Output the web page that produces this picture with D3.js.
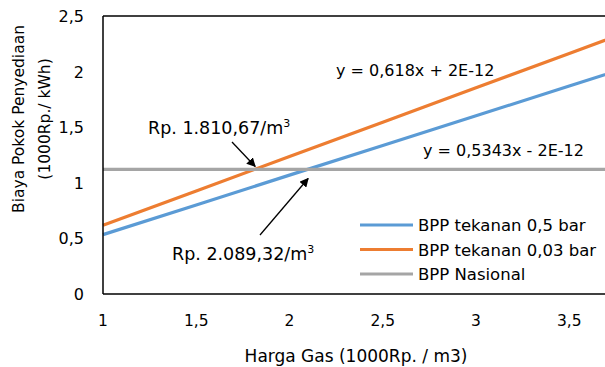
<!DOCTYPE html>
<html>
<head>
<meta charset="utf-8">
<script src="https://cdn.jsdelivr.net/npm/d3@7"></script>
<style>
  body { margin: 0; background: #fff; }
  text { font-family: "DejaVu Sans", sans-serif; fill: #000; }
</style>
</head>
<body>
<div id="chart"></div>
<script>
// data
var gasPrice = [1, 1.5, 2, 2.5, 3, 3.5, 4];
var bpp05 = [0.534, 0.801, 1.069, 1.336, 1.603, 1.870, 2.137];
var bpp003 = [0.618, 0.927, 1.236, 1.545, 1.854, 2.163, 2.472];
var bppNasional = [1.12, 1.12, 1.12, 1.12, 1.12, 1.12, 1.12];
var seriesNames = ["BPP tekanan 0,5 bar", "BPP tekanan 0,03 bar", "BPP Nasional"];
var seriesColors = ["#5b9bd5", "#ed7d31", "#a5a5a5"];
var xTicks = [1, 1.5, 2, 2.5, 3, 3.5];
var yTicks = [0, 0.5, 1, 1.5, 2, 2.5];
var crossPoints = [1.81067, 2.08932];

var width = 605, height = 367;
var plotLeft = 103, plotTop = 16, plotBottom = 294;

var svg = d3.select("#chart").append("svg")
    .attr("width", width)
    .attr("height", height);

var x = d3.scaleLinear().domain([1, 4]).range([plotLeft, plotLeft + 3 * 186.5]);
var y = d3.scaleLinear().domain([0, 2.5]).range([plotBottom, plotTop]);

function fmt(v) { return String(v).replace(".", ","); }

// lines
var allSeries = [bpp05, bpp003, bppNasional];
var line = d3.line()
    .x(function (d, i) { return x(gasPrice[i]); })
    .y(function (d) { return y(d); });

svg.append("g").selectAll("path")
    .data(allSeries)
    .enter()
    .append("path")
    .attr("d", line)
    .attr("fill", "none")
    .attr("stroke", function (d, i) { return seriesColors[i]; })
    .attr("stroke-width", 3.2);

// frame: left axis, bottom axis, top border
svg.append("line").attr("x1", plotLeft).attr("x2", plotLeft).attr("y1", plotTop).attr("y2", plotBottom)
    .attr("stroke", "#000").attr("stroke-width", 1.5);
svg.append("line").attr("x1", plotLeft).attr("x2", width).attr("y1", plotBottom).attr("y2", plotBottom)
    .attr("stroke", "#000").attr("stroke-width", 1.5);
svg.append("line").attr("x1", plotLeft).attr("x2", width).attr("y1", plotTop).attr("y2", plotTop)
    .attr("stroke", "#000").attr("stroke-width", 1.5);

// tick labels
svg.append("g").selectAll("text")
    .data(xTicks).enter().append("text")
    .attr("x", function (d) { return x(d); })
    .attr("y", 326)
    .attr("text-anchor", "middle")
    .style("font-size", "15.5px")
    .text(fmt);

svg.append("g").selectAll("text")
    .data(yTicks).enter().append("text")
    .attr("x", 84)
    .attr("y", function (d) { return y(d) + 6; })
    .attr("text-anchor", "end")
    .style("font-size", "16px")
    .text(fmt);

// axis titles
svg.append("text")
    .attr("x", 356).attr("y", 362)
    .attr("text-anchor", "middle")
    .style("font-size", "17px")
    .text("Harga Gas (1000Rp. / m3)");

var yTitle = svg.append("text")
    .attr("transform", "translate(24,119) rotate(-90)")
    .attr("text-anchor", "middle")
    .style("font-size", "15.5px");
yTitle.append("tspan").attr("x", 0).attr("y", 0).text("Biaya Pokok Penyediaan");
yTitle.append("tspan").attr("x", 0).attr("y", 26).text("(1000Rp./ kWh)");

// equations
svg.append("text").attr("x", 336).attr("y", 76)
    .style("font-size", "16px").text("y = 0,618x + 2E-12");
svg.append("text").attr("x", 423).attr("y", 156)
    .style("font-size", "16px").text("y = 0,5343x - 2E-12");

// annotations with arrows
svg.append("defs").append("marker")
    .attr("id", "head")
    .attr("viewBox", "0 0 10 10")
    .attr("refX", 9).attr("refY", 5)
    .attr("markerWidth", 7).attr("markerHeight", 7)
    .attr("orient", "auto")
    .append("path").attr("d", "M0,0 L10,5 L0,10 Z").attr("fill", "#000");

var note1 = svg.append("text").attr("x", 148).attr("y", 134).style("font-size", "17.5px");
note1.append("tspan").text("Rp. 1.810,67/m");
note1.append("tspan").attr("dy", -7).style("font-size", "11px").text("3");

var note2 = svg.append("text").attr("x", 172).attr("y", 260).style("font-size", "17.5px");
note2.append("tspan").text("Rp. 2.089,32/m");
note2.append("tspan").attr("dy", -7).style("font-size", "11px").text("3");

svg.append("line")
    .attr("x1", 232).attr("y1", 142)
    .attr("x2", x(crossPoints[0]) + 1).attr("y2", y(1.12) - 3)
    .attr("stroke", "#000").attr("stroke-width", 1.3)
    .attr("marker-end", "url(#head)");
svg.append("line")
    .attr("x1", 260).attr("y1", 235)
    .attr("x2", x(crossPoints[1]) + 2).attr("y2", y(1.12) + 9)
    .attr("stroke", "#000").attr("stroke-width", 1.3)
    .attr("marker-end", "url(#head)");

// legend
var legend = svg.append("g").selectAll("g")
    .data(seriesNames).enter().append("g")
    .attr("transform", function (d, i) { return "translate(360," + (225 + i * 24.5) + ")"; });
legend.append("line")
    .attr("x1", 0).attr("x2", 53)
    .attr("stroke", function (d, i) { return seriesColors[i]; })
    .attr("stroke-width", 3.2);
legend.append("text")
    .attr("x", 58).attr("y", 6)
    .style("font-size", "16.5px")
    .text(function (d) { return d; });
</script>
</body>
</html>
